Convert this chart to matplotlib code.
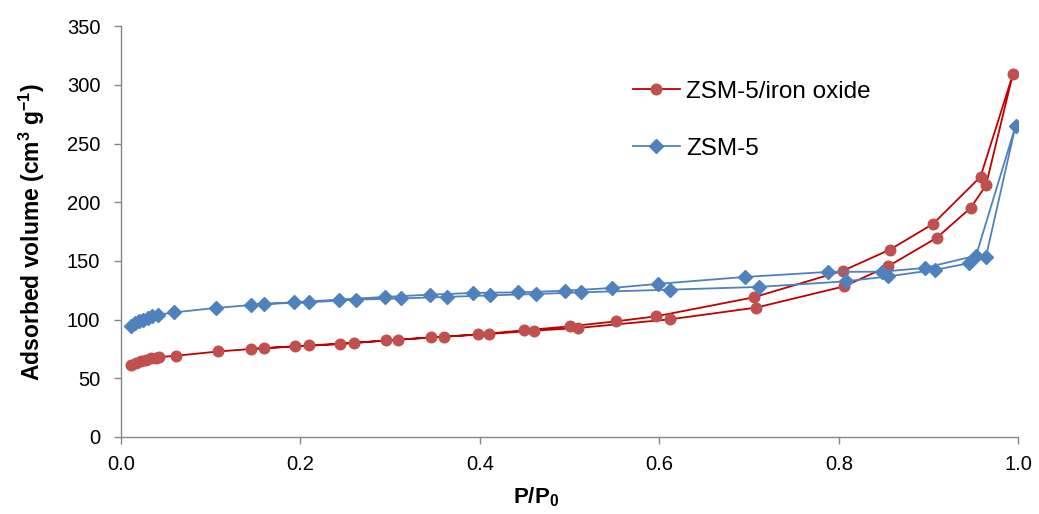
import matplotlib
matplotlib.use("Agg")
import matplotlib.pyplot as plt

plt.rcParams['font.family'] = ['Liberation Sans', 'DejaVu Sans']
plt.rcParams['mathtext.fontset'] = 'custom'
plt.rcParams['mathtext.rm'] = 'Liberation Sans'
plt.rcParams['mathtext.bf'] = 'Liberation Sans:bold'
plt.rcParams['mathtext.default'] = 'bf'

# ZSM-5/iron oxide: adsorption then desorption branch
fe_ads_p = [0.011, 0.017, 0.022, 0.028, 0.033, 0.039, 0.042, 0.061, 0.108, 0.159,
            0.210, 0.260, 0.309, 0.360, 0.410, 0.460, 0.509, 0.612, 0.708, 0.806,
            0.855, 0.909, 0.947, 0.964, 0.994]
fe_ads_v = [61.5, 63.4, 64.9, 65.7, 66.9, 67.4, 68.0, 69.1, 72.8, 75.7,
            77.9, 80.2, 82.8, 85.4, 87.7, 90.5, 92.8, 100.2, 110.2, 128.3,
            145.4, 169.6, 195.2, 214.3, 309.0]
fe_des_p = [0.958, 0.905, 0.857, 0.805, 0.705, 0.596, 0.552, 0.500, 0.449, 0.398,
            0.346, 0.295, 0.244, 0.194, 0.145]
fe_des_v = [221.7, 181.5, 159.6, 141.7, 118.9, 102.7, 98.5, 94.2, 90.8, 87.3,
            84.8, 82.2, 79.1, 77.1, 74.9]

# ZSM-5: adsorption then desorption branch
z_ads_p = [0.011, 0.015, 0.020, 0.024, 0.030, 0.035, 0.041, 0.059, 0.106, 0.159,
           0.210, 0.262, 0.312, 0.363, 0.411, 0.463, 0.513, 0.612, 0.711, 0.808,
           0.855, 0.907, 0.945, 0.964, 0.997]
z_ads_v = [94.8, 97.0, 98.4, 99.9, 101.3, 103.3, 104.1, 106.1, 109.9, 113.3,
           114.7, 117.0, 118.0, 119.3, 120.6, 121.8, 123.2, 125.5, 127.8, 132.6,
           136.8, 142.3, 148.0, 153.4, 265.0]
z_des_p = [0.953, 0.896, 0.848, 0.788, 0.695, 0.598, 0.547, 0.495, 0.443, 0.392,
           0.344, 0.294, 0.243, 0.193, 0.145]
z_des_v = [154.5, 144.0, 140.8, 140.6, 136.3, 130.4, 126.9, 124.6, 123.2, 122.7,
           121.2, 119.3, 117.0, 114.7, 112.7]

labels = ["ZSM-5/iron oxide", "ZSM-5"]
x_ticks = [0.0, 0.2, 0.4, 0.6, 0.8, 1.0]
y_ticks = [0, 50, 100, 150, 200, 250, 300, 350]

fig = plt.figure(figsize=(10.39, 5.14), dpi=100)
ax = fig.add_axes([0.1165, 0.150, 0.8635, 0.799])

ax.plot(fe_ads_p + fe_des_p, fe_ads_v + fe_des_v, color='#C00000', lw=1.3,
        marker='o', ms=7.6, mfc='#C0504D', mec='#C0504D', label=labels[0], zorder=2)
ax.plot(z_ads_p + z_des_p, z_ads_v + z_des_v, color='#4F81BD', lw=1.3,
        marker='D', ms=6.8, mfc='#4F81BD', mec='#4F81BD', label=labels[1], zorder=3)

ax.set_xlim(0, 1.0)
ax.set_ylim(0, 350)
ax.set_xticks(x_ticks)
ax.set_xticklabels([f"{t:.1f}" for t in x_ticks])
ax.set_yticks(y_ticks)

for s in ['top', 'right']:
    ax.spines[s].set_visible(False)
for s in ['left', 'bottom']:
    ax.spines[s].set_color('#868686')
    ax.spines[s].set_linewidth(1.0)
ax.tick_params(axis='both', direction='out', length=5, width=1.0, color='#868686',
               labelsize=14.5, labelcolor='black')
ax.tick_params(axis='y', pad=10)
ax.tick_params(axis='x', pad=8)

ax.set_xlabel('P/P$_0$', fontsize=16, fontweight='bold')
ax.xaxis.set_label_coords(0.462, -0.118)
ax.set_ylabel('Adsorbed volume (cm$^3$ g$^{-1}$)', fontsize=16.5, fontweight='bold')
ax.yaxis.set_label_coords(-0.082, 0.5)

fig.legend(loc='upper left', bbox_to_anchor=(0.609, 0.843), frameon=False,
           fontsize=17.5, handlelength=1.95, handletextpad=0.25, labelspacing=1.45,
           borderpad=0, borderaxespad=0)

fig.savefig('out.png', dpi=100)
